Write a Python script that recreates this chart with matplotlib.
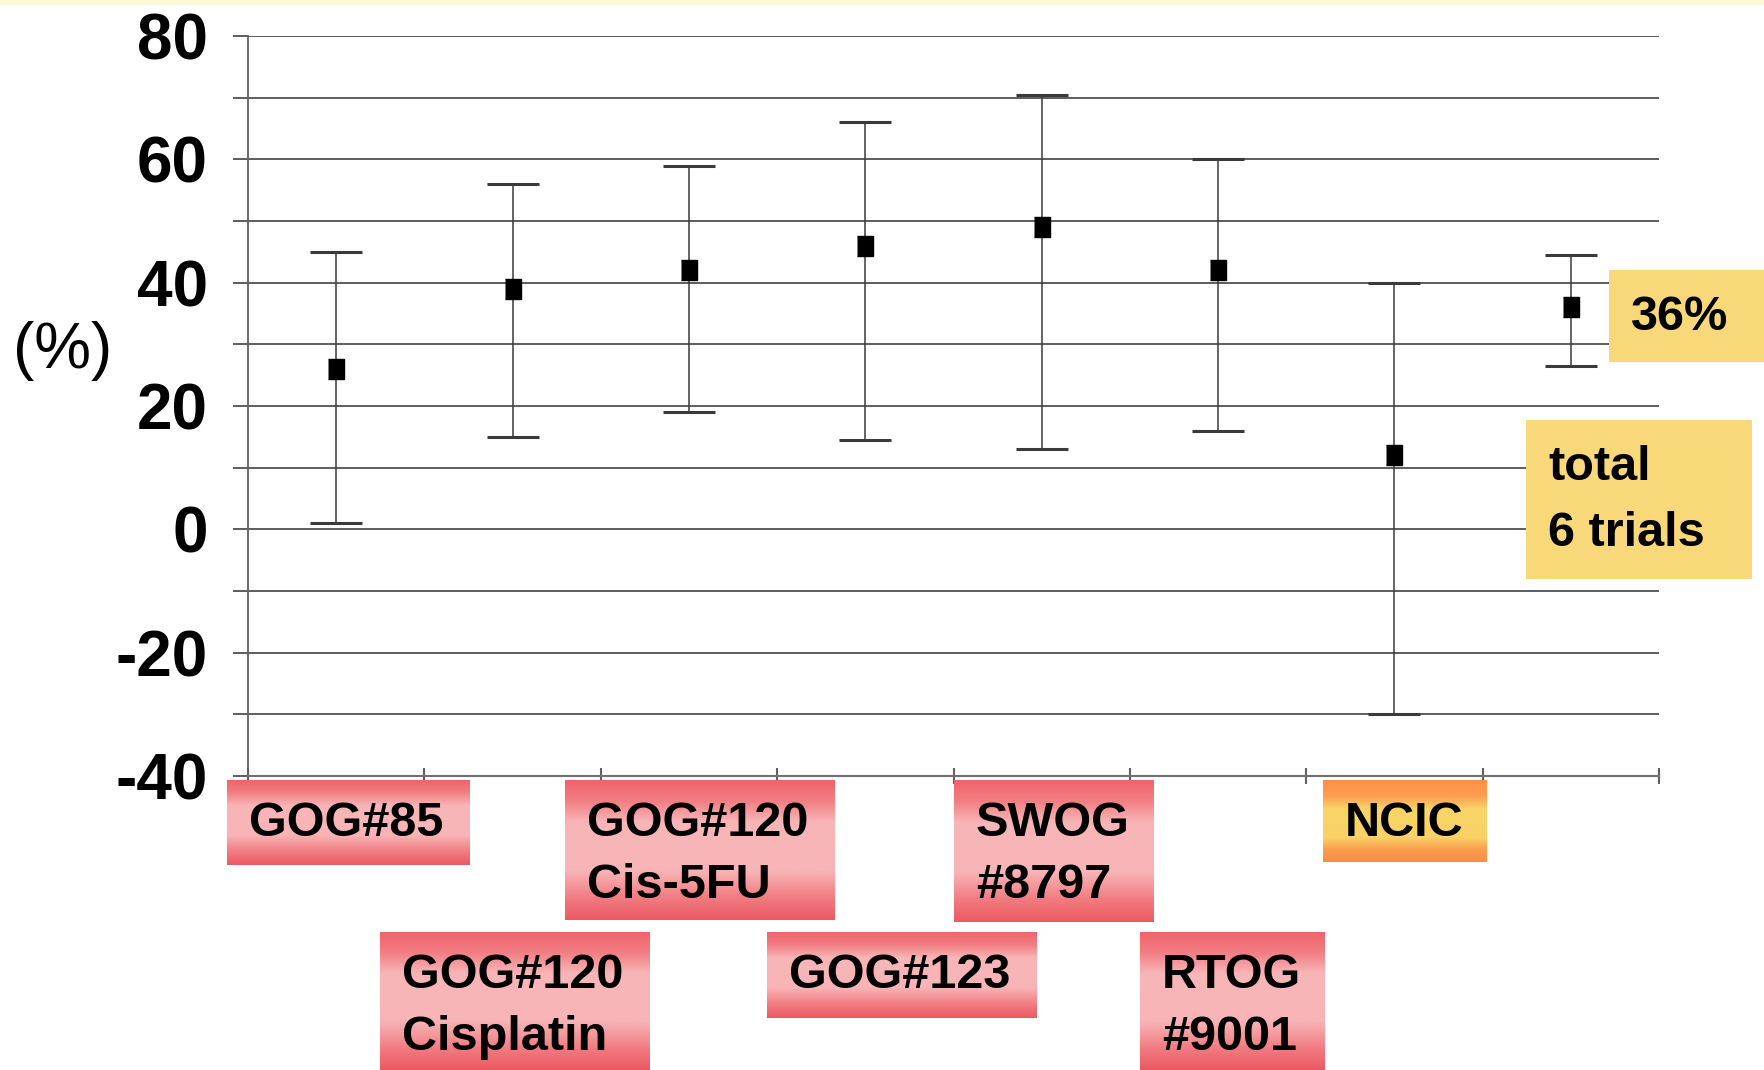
import numpy as np
import matplotlib
matplotlib.use('Agg')
import matplotlib.pyplot as plt
from matplotlib.colors import LinearSegmentedColormap
from matplotlib.patches import Rectangle

plt.rcParams['font.family'] = ['Liberation Sans', 'DejaVu Sans']

# response rate per trial (%) with 95% CI
trials = ['GOG#85', 'GOG#120\nCisplatin', 'GOG#120\nCis-5FU', 'GOG#123',
          'SWOG\n#8797', 'RTOG\n#9001', 'NCIC', 'total']
rate = [26, 39, 42, 46, 49, 42, 12, 36]
upper = [45, 56, 59, 66, 70.5, 60, 40, 44.5]
lower = [1, 15, 19, 14.5, 13, 16, -30, 26.5]

# label boxes under the axis (pixel layout: left, top, right, bottom) and style
box_pos = [(227, 780, 470, 865), (380, 932, 650, 1070), (565, 780, 835, 920),
           (767, 932, 1037, 1018), (954, 780, 1154, 922), (1140, 932, 1325, 1070),
           (1323, 780, 1487, 862)]
box_style = ['pink', 'pink', 'pink', 'pink', 'pink', 'pink', 'orange']

W, H = 1764, 1070
fig = plt.figure(figsize=(W / 100, H / 100), dpi=100)
fig.patch.set_facecolor('white')

ax = fig.add_axes([248 / W, 1 - 776 / H, (1659 - 248) / W, (776 - 36) / H])
x = np.arange(len(rate))
r = np.array(rate)
yerr = [r - np.array(lower), np.array(upper) - r]
ax.errorbar(x, r, yerr=yerr, fmt='none', ecolor='#3a3a3a', elinewidth=1.1,
            capsize=19, capthick=2.2, zorder=3)
rect_marker = [(-0.8, -1), (0.8, -1), (0.8, 1), (-0.8, 1)]
ax.plot(x, r, linestyle='none', marker=rect_marker, markersize=14.5,
        color='black', zorder=4)

ax.set_xlim(-0.5, len(rate) - 0.5)
ax.set_ylim(-40, 80)
ax.set_yticks(np.arange(-40, 81, 20))
ax.set_yticks(np.arange(-30, 80, 20), minor=True)
ax.set_yticklabels([str(v) for v in range(-40, 81, 20)],
                   fontsize=46, fontweight='bold')
ax.tick_params(axis='y', which='both', length=11, width=1.3, color='#505050',
               direction='out', pad=18)
ax.set_xticks(np.arange(-0.5, len(rate), 1))
ax.set_xticklabels([])
ax.tick_params(axis='x', length=12, width=1.5, color='#606060', direction='inout')
ax.grid(axis='y', which='both', color='#505050', linewidth=1.3)
ax.set_axisbelow(True)
for s in ['top', 'right']:
    ax.spines[s].set_visible(False)
ax.spines['left'].set_color('#606060')
ax.spines['left'].set_linewidth(1.3)
ax.spines['bottom'].set_color('#707070')
ax.spines['bottom'].set_linewidth(1.5)

fig.text(13 / W, 1 - 351 / H, '(%)', fontsize=46, ha='left', va='center')

# overlay in pixel coordinates for the label boxes
ov = fig.add_axes([0, 0, 1, 1], zorder=5)
ov.set_xlim(0, W)
ov.set_ylim(H, 0)
ov.axis('off')
ov.patch.set_alpha(0)

ov.add_patch(Rectangle((0, 0), W, 5, color='#fdf8d6', lw=0))

pink = LinearSegmentedColormap.from_list('pink', [
    (0.0, '#f0646a'), (0.15, '#f27f84'), (0.3, '#f8b6b8'), (0.65, '#f8b4b6'),
    (0.85, '#f17a80'), (1.0, '#ec5a63')])
orange = LinearSegmentedColormap.from_list('orange', [
    (0.0, '#fb8f45'), (0.2, '#fca052'), (0.35, '#f9d466'), (0.7, '#f8d266'),
    (0.85, '#fb9e4e'), (1.0, '#fa8d42')])
cmaps = {'pink': pink, 'orange': orange}
grad = np.linspace(0, 1, 200).reshape(-1, 1)

for lab, (x0, y0, x1, y1), st in zip(trials, box_pos, box_style):
    ov.imshow(grad, cmap=cmaps[st], extent=(x0, x1, y1, y0), origin='upper',
              aspect='auto', zorder=6)
    lines = lab.split('\n')
    for k, t in enumerate(lines):
        ov.text(x0 + 22, y0 + 44 + 61 * k, t, fontsize=35, fontweight='bold',
                ha='left', va='center', zorder=7)

# yellow callouts for pooled result
ov.add_patch(Rectangle((1609, 270), 155, 92, color='#f8d878', lw=0, zorder=6))
ov.text(1631, 318, '36%', fontsize=35, fontweight='bold', ha='left',
        va='center', zorder=7)
ov.add_patch(Rectangle((1526, 420), 226, 159, color='#f8d878', lw=0, zorder=6))
ov.text(1548, 468, 'total', fontsize=35, fontweight='bold', ha='left',
        va='center', zorder=7)
ov.text(1548, 534, '6 trials', fontsize=35, fontweight='bold', ha='left',
        va='center', zorder=7)
ov.set_xlim(0, W)
ov.set_ylim(H, 0)

fig.savefig('out.png', dpi=100)
